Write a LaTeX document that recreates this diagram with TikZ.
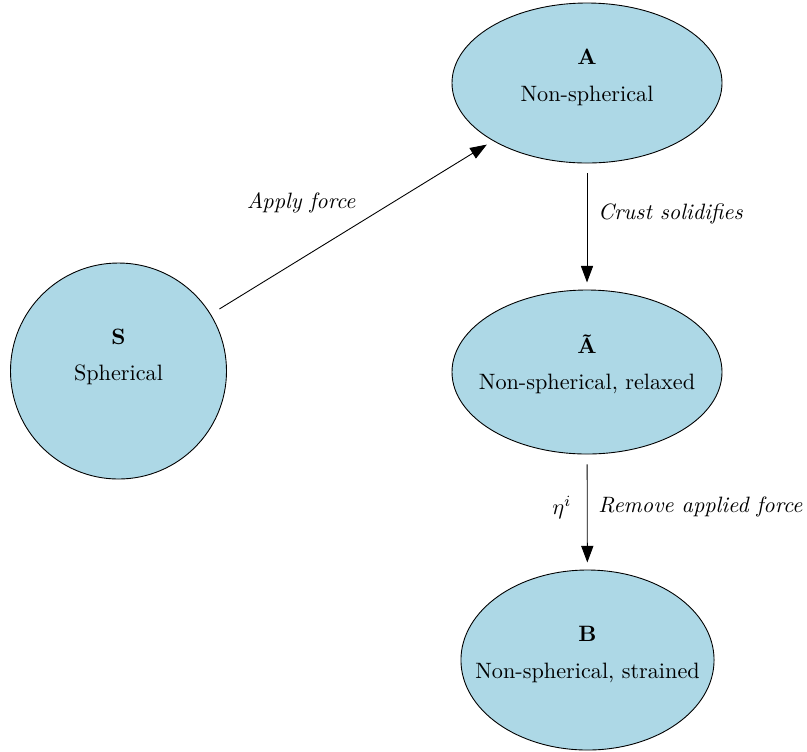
\documentclass[tikz,border=0pt]{standalone}
\usetikzlibrary{shapes.geometric,arrows.meta}
\definecolor{lightblue}{RGB}{173,216,230}
\begin{document}
\begin{tikzpicture}[x=0.45pt,y=-0.45pt,
    statestyle/.style={ellipse,draw,fill=lightblue,inner sep=0pt},
    namestyle/.style={align=center},
    stepstyle/.style={-{Triangle[length=7.5pt,width=5.5pt]},shorten <=4.5pt,shorten >=3.2pt},
    labelstyle/.style={font=\itshape}]
\useasboundingbox (0,0) rectangle (807,751);
% states
\node[statestyle,circle,minimum size=97.2pt,
    label={[namestyle,name=s text,yshift=6.3pt]center:{\textbf{S}\\[4.5pt]Spherical}}] (s) at (118.5,371) {};
\node[statestyle,minimum width=121.5pt,minimum height=72pt,
    label={[namestyle,name=a text,yshift=2.5pt]center:{\textbf{A}\\[4.5pt]Non-spherical}}] (a) at (587,83) {};
\node[statestyle,minimum width=121.5pt,minimum height=73.8pt,
    label={[namestyle,name=at text,yshift=3.5pt]center:{\textbf{\~A}\\[4.5pt]Non-spherical, relaxed}}] (at) at (587,372) {};
\node[statestyle,minimum width=113.9pt,minimum height=81pt,
    label={[namestyle,name=b text,yshift=2.5pt]center:{\textbf{B}\\[4.5pt]Non-spherical, strained}}] (b) at (587.5,660) {};
% transitions
\draw[stepstyle] (s) -- (a) node[labelstyle,pos=0.54,above left] (apply) {Apply force};
\draw[stepstyle] (a) -- (at) node[labelstyle,pos=0.4,right,xshift=1.5pt] (crust) {Crust solidifies};
\draw[stepstyle] (at) -- (b) node[labelstyle,pos=0.46,right,xshift=1.5pt] (remove) {Remove applied force}
    node[pos=0.46,left,xshift=-3.5pt] (eta) {$\eta^i$};
\end{tikzpicture}
\end{document}
